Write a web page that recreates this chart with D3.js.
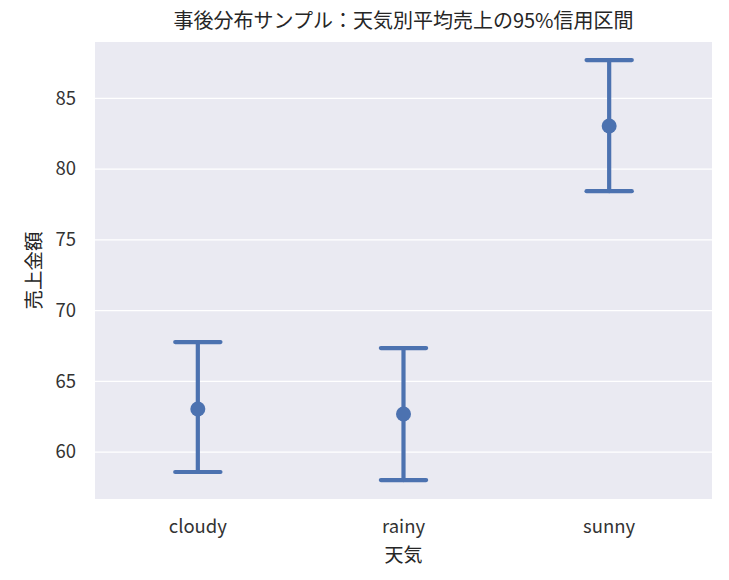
<!DOCTYPE html>
<html><head><meta charset="utf-8">
<script src="https://cdn.jsdelivr.net/npm/d3@7"></script>
<style>body{margin:0;background:#fff;} text{font-family:"Noto Sans CJK JP","Noto Sans",sans-serif;}</style>
</head><body><svg id="c" width="729" height="580"></svg>
<script>
const categories = ["cloudy", "rainy", "sunny"];
const means = [63.04, 62.69, 83.04];
const lower = [58.59, 58.02, 78.44];
const upper = [67.77, 67.35, 87.70];
const yTicks = [60, 65, 70, 75, 80, 85];
const title = "事後分布サンプル：天気別平均売上の95%信用区間";
const xLabel = "天気";
const yLabel = "売上金額";

const svg = d3.select("#c");
const m = {l: 95, r: 17, t: 42, b: 81};
const W = 729, H = 580;
const pw = W - m.l - m.r, ph = H - m.t - m.b;
const g = svg.append("g").attr("transform", `translate(${m.l},${m.t})`);

const x = d3.scaleBand().domain(categories).range([0, pw]);
const y = d3.scaleLinear().domain([56.68, 88.98]).range([ph, 0]);

g.append("rect").attr("width", pw).attr("height", ph).attr("fill", "#eaeaf2");
g.selectAll(".grid").data(yTicks).enter().append("line")
  .attr("x1", 0).attr("x2", pw).attr("y1", d => y(d)).attr("y2", d => y(d))
  .attr("stroke", "#fff").attr("stroke-width", 1.3);

const yAxis = g.append("g").call(d3.axisLeft(y).tickValues(yTicks).tickSize(0).tickPadding(19));
yAxis.select(".domain").remove();
yAxis.selectAll("text").attr("font-size", 18.5).attr("fill", "#333");

const xAxis = g.append("g").attr("transform", `translate(0,${ph})`).call(d3.axisBottom(x).tickSize(0).tickPadding(21));
xAxis.select(".domain").remove();
xAxis.selectAll("text").attr("font-size", 18.5).attr("fill", "#333");

const col = "#4c72b0";
const cap = x.bandwidth() * 0.22;
const data = categories.map((c, i) => ({c, m: means[i], lo: lower[i], hi: upper[i]}));
const eg = g.selectAll(".eb").data(data).enter().append("g");
eg.append("line").attr("x1", d => x(d.c) + x.bandwidth()/2).attr("x2", d => x(d.c) + x.bandwidth()/2)
  .attr("y1", d => y(d.lo)).attr("y2", d => y(d.hi)).attr("stroke", col).attr("stroke-width", 4.2).attr("stroke-linecap", "round");
eg.append("line").attr("x1", d => x(d.c) + x.bandwidth()/2 - cap/2).attr("x2", d => x(d.c) + x.bandwidth()/2 + cap/2)
  .attr("y1", d => y(d.hi)).attr("y2", d => y(d.hi)).attr("stroke", col).attr("stroke-width", 4.2).attr("stroke-linecap", "round");
eg.append("line").attr("x1", d => x(d.c) + x.bandwidth()/2 - cap/2).attr("x2", d => x(d.c) + x.bandwidth()/2 + cap/2)
  .attr("y1", d => y(d.lo)).attr("y2", d => y(d.lo)).attr("stroke", col).attr("stroke-width", 4.2).attr("stroke-linecap", "round");
eg.append("circle").attr("cx", d => x(d.c) + x.bandwidth()/2).attr("cy", d => y(d.m)).attr("r", 7.5).attr("fill", col);

svg.append("text").attr("x", m.l + pw/2).attr("y", 28).attr("text-anchor", "middle")
  .attr("font-size", 20).attr("fill", "#262626").text(title);
svg.append("text").attr("x", m.l + pw/2).attr("y", 562).attr("text-anchor", "middle")
  .attr("font-size", 19).attr("fill", "#262626").text(xLabel);
svg.append("text").attr("transform", `translate(41,${m.t + ph/2}) rotate(-90)`).attr("text-anchor", "middle")
  .attr("font-size", 19.5).attr("fill", "#262626").text(yLabel);
</script></body></html>
